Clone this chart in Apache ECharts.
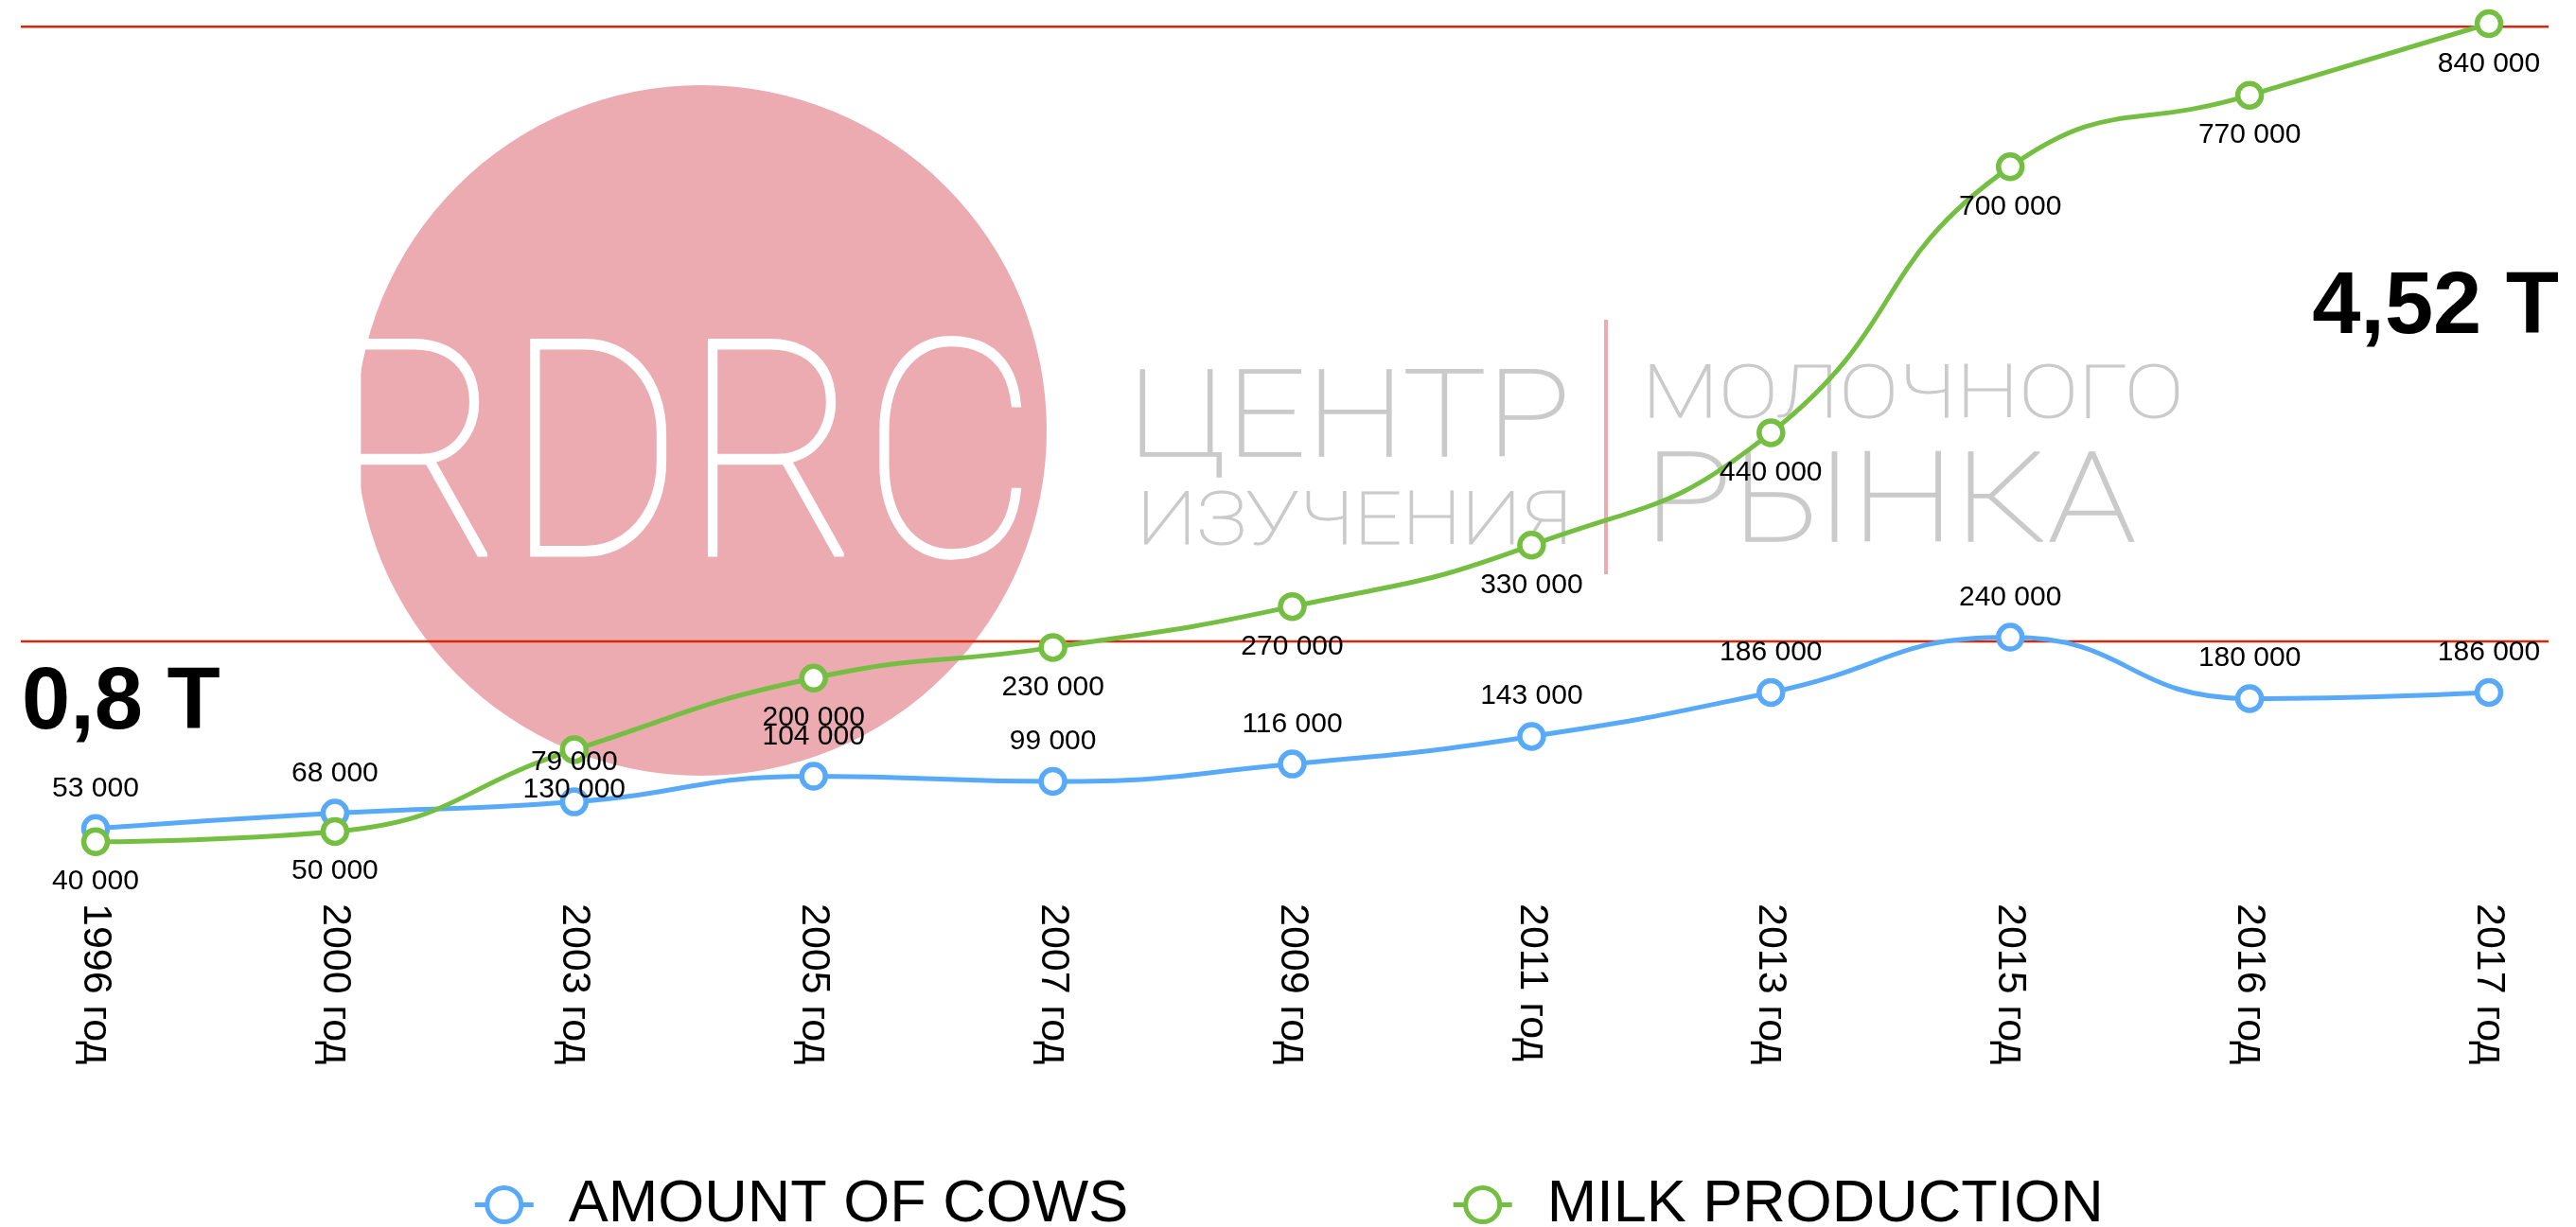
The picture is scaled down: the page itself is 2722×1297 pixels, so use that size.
<!DOCTYPE html>
<html>
<head>
<meta charset="utf-8">
<script src="https://cdn.jsdelivr.net/npm/echarts@6/dist/echarts.min.js"></script>
<style>html,body{margin:0;padding:0;background:#fff;}#c{width:2722px;height:1297px;}</style>
</head>
<body>
<div id="c"></div>
<script>
const categories = ['1996 год','2000 год','2003 год','2005 год','2007 год','2009 год','2011 год','2013 год','2015 год','2016 год','2017 год'];
const cows = [53000, 68000, 79000, 104000, 99000, 116000, 143000, 186000, 240000, 180000, 186000];
const milk = [40000, 50000, 130000, 200000, 230000, 270000, 330000, 440000, 700000, 770000, 840000];
const refLines = [837000, 236000];
const seriesNames = ['AMOUNT OF COWS', 'MILK PRODUCTION'];
const bigNotes = ['0,8 T', '4,52 T'];
const logoTexts = ['RDRC', 'ЦЕНТР', 'ИЗУЧЕНИЯ', 'МОЛОЧНОГО', 'РЫНКА'];

const BLUE = '#58aaf8', GREEN = '#74bf42', RED = '#d6290c', PINK = '#ebabb0', GRAY = '#cacaca';
const FONT = 'Liberation Sans';
const fmt = v => String(v).replace(/\B(?=(\d{3})+(?!\d))/g, ' ');

// distance from the canvas 'middle' baseline to the alphabetic baseline for a font
const mctx = document.createElement('canvas').getContext('2d');
function midToBase(font) {
  mctx.font = font; mctx.textBaseline = 'middle';
  return mctx.measureText('H').actualBoundingBoxDescent;
}

const chart = echarts.init(document.getElementById('c'));
function mkSeries(name, data, color, pos) {
  return {
    name: name, type: 'line', data: data, smooth: 0.5,
    symbol: 'circle', symbolSize: 25, showSymbol: true,
    lineStyle: { color: color, width: 5 },
    itemStyle: { color: '#fff', borderColor: color, borderWidth: 5.5 },
    label: { show: true, position: pos, distance: 12, fontSize: 30, color: '#000', fontFamily: FONT,
      formatter: p => fmt(p.value) },
    z: 3
  };
}
const option = {
  animation: false,
  backgroundColor: '#fff',
  grid: { left: 101, right: 92, top: 25, bottom: 364, containLabel: false },
  xAxis: {
    type: 'category', data: categories, boundaryGap: false,
    axisLine: { show: false }, axisTick: { show: false }, splitLine: { show: false },
    axisLabel: { rotate: -90, fontSize: 43, color: '#000', fontFamily: FONT, margin: 22, interval: 0 }
  },
  yAxis: { type: 'value', min: 0, max: 840000, show: false, splitLine: { show: false } },
  legend: {
    top: 1237, left: 'center', itemGap: 341, itemWidth: 62, itemHeight: 45,
    itemStyle: { borderWidth: 5 },
    lineStyle: { width: 5 },
    textStyle: { fontSize: 63, color: '#000', fontFamily: FONT, padding: [0, 0, 0, 32] },
    data: seriesNames
  },
  series: [
    mkSeries(seriesNames[0], cows, BLUE, 'top'),
    mkSeries(seriesNames[1], milk, GREEN, 'bottom')
  ]
};
chart.setOption(option);

const yTop = chart.convertToPixel({ yAxisIndex: 0 }, refLines[0]);
const yBot = chart.convertToPixel({ yAxisIndex: 0 }, refLines[1]);
const LF = 'Roboto';
function txt(text, x, baseline, font, fill, align, sx, extra, z) {
  return { type: 'text', x: x, y: baseline - midToBase(font), scaleX: sx || 1, silent: true, z: z,
    style: Object.assign({ text: text, fill: fill, font: font, verticalAlign: 'middle', align: align }, extra || {}) };
}
const lf = fs => '100 ' + fs + 'px ' + LF;
chart.setOption({
  graphic: [
    { type: 'circle', shape: { cx: 741, cy: 455, r: 365 }, style: { fill: PINK }, z: -10, silent: true },
    txt(logoTexts[0], 345, 587, lf(320), '#fff', 'left', 0.9, { stroke: '#fff', lineWidth: 3 }, -9),
    txt(logoTexts[1], 1192, 482, lf(128), GRAY, 'left', 1.16, { stroke: GRAY, lineWidth: 1.4 }, -9),
    txt(logoTexts[2], 1201, 575, lf(77), GRAY, 'left', 1.16, { stroke: GRAY, lineWidth: 1 }, -9),
    txt(logoTexts[3], 1735, 441, lf(78), GRAY, 'left', 1.21, { stroke: GRAY, lineWidth: 1 }, -9),
    txt(logoTexts[4], 1737, 572, lf(132), GRAY, 'left', 1.18, { stroke: GRAY, lineWidth: 1.4 }, -9),
    { type: 'rect', shape: { x: 1695, y: 338, width: 4, height: 269 }, style: { fill: PINK }, z: -9, silent: true },
    { type: 'line', shape: { x1: 22, y1: yTop, x2: 2693, y2: yTop }, style: { stroke: RED, lineWidth: 2.5 }, z: 1, silent: true },
    { type: 'line', shape: { x1: 22, y1: yBot, x2: 2693, y2: yBot }, style: { stroke: RED, lineWidth: 2.5 }, z: 1, silent: true },
    txt(bigNotes[0], 23, 770, 'bold 92px ' + FONT, '#000', 'left', 1, null, 5),
    txt(bigNotes[1], 2704, 352, 'bold 92px ' + FONT, '#000', 'right', 1, null, 5)
  ]
});
</script>
</body>
</html>
